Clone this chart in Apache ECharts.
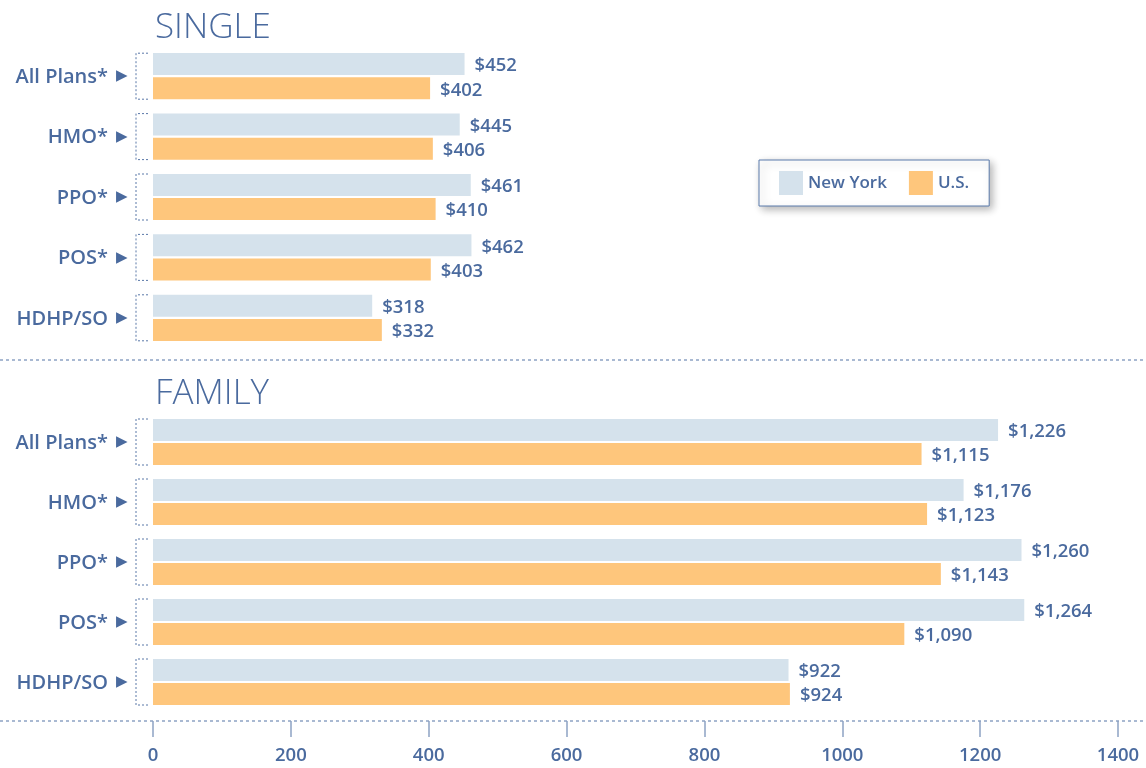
<!DOCTYPE html>
<html>
<head>
<meta charset="utf-8">
<script src="https://cdn.jsdelivr.net/npm/echarts@6/dist/echarts.min.js"></script>
<style>
  html, body { margin: 0; padding: 0; background: #fff; }
  #main { width: 1146px; height: 768px; }
</style>
</head>
<body>
<div id="main"></div>
<script>
// data
var plans = ['All Plans*', 'HMO*', 'PPO*', 'POS*', 'HDHP/SO'];
var singleNY = [452, 445, 461, 462, 318];
var singleUS = [402, 406, 410, 403, 332];
var familyNY = [1226, 1176, 1260, 1264, 922];
var familyUS = [1115, 1123, 1143, 1090, 924];
var xTicks = [0, 200, 400, 600, 800, 1000, 1200, 1400];

var txt = '#4a6a9e';
var blue = '#d5e2ec';
var orange = '#fec67c';
var font = 'Open Sans';

function money(v) {
  return '$' + String(v).replace(/\B(?=(\d{3})+(?!\d))/g, ',');
}

var myChart = echarts.init(document.getElementById('main'));

function barSeries(name, color, data, idx) {
  return {
    name: name,
    type: 'bar',
    xAxisIndex: idx,
    yAxisIndex: idx,
    data: data,
    barWidth: 22,
    barGap: '10%',
    itemStyle: { color: color },
    label: {
      show: true,
      position: 'right',
      distance: 10,
      offset: [0, 2],
      color: txt,
      fontFamily: font,
      fontSize: 18.5,
      fontWeight: 600,
      formatter: function (p) { return money(p.value); }
    }
  };
}

// dashed bracket left of each bar pair
function bracketSeries(idx) {
  return {
    type: 'custom',
    xAxisIndex: idx,
    yAxisIndex: idx,
    silent: true,
    clip: false,
    encode: { x: 0, y: 1 },
    data: plans.map(function (p, i) { return [0, i]; }),
    renderItem: function (params, api) {
      var c = api.coord([0, api.value(1)]);
      var x0 = c[0] - 17, x1 = c[0] - 5;
      var y0 = c[1] - 23, y1 = c[1] + 23;
      return {
        type: 'polyline',
        shape: { points: [[x1, y0], [x0, y0], [x0, y1], [x1, y1]] },
        style: { stroke: '#5a78a8', lineWidth: 1, lineDash: [2, 2], fill: null }
      };
    }
  };
}

var catAxis = function (idx) {
  return {
    type: 'category',
    gridIndex: idx,
    data: plans,
    inverse: true,
    axisLine: { show: false },
    axisTick: { show: false },
    axisLabel: {
      margin: 25,
      formatter: function (v) { return '{a|' + v + '}{t|▶}'; },
      rich: {
        a: { color: txt, fontFamily: font, fontSize: 20, fontWeight: 600, padding: [2, 0, 0, 0] },
        t: { color: txt, fontSize: 15, padding: [0, 0, 0, 8] }
      }
    }
  };
};

var option = {
  animation: false,
  title: [
    { text: 'SINGLE', left: 150, top: 6,
      textStyle: { color: txt, fontFamily: font, fontSize: 35, fontWeight: 300 } },
    { text: 'FAMILY', left: 150, top: 372,
      textStyle: { color: txt, fontFamily: font, fontSize: 35, fontWeight: 300 } }
  ],
  legend: {
    data: ['New York', 'U.S.'],
    left: 759,
    top: 160,
    padding: [11, 20, 11, 20],
    itemWidth: 24,
    itemHeight: 24,
    itemGap: 22,
    borderColor: '#5b7aab',
    borderWidth: 1,
    backgroundColor: '#fff',
    shadowBlur: 8,
    shadowColor: 'rgba(0,0,0,0.3)',
    shadowOffsetX: 3,
    shadowOffsetY: 3,
    icon: 'rect',
    textStyle: { color: txt, fontFamily: font, fontSize: 17, fontWeight: 600 }
  },
  grid: [
    { left: 153, right: 28, top: 46, height: 302 },
    { left: 153, right: 28, top: 412, height: 300 }
  ],
  xAxis: [
    { type: 'value', gridIndex: 0, min: 0, max: 1400, interval: 200, show: false },
    {
      type: 'value', gridIndex: 1, min: 0, max: 1400, interval: 200,
      offset: 9,
      axisLine: { show: false },
      axisTick: { show: true, length: 16, lineStyle: { color: '#8da3c4', width: 1.5 } },
      splitLine: { show: false },
      axisLabel: {
        margin: 25, color: txt, fontFamily: font, fontSize: 18.5, fontWeight: 600,
        customValues: xTicks,
        formatter: function (v) { return String(v); }
      }
    }
  ],
  yAxis: [catAxis(0), catAxis(1)],
  graphic: [
    { type: 'line', shape: { x1: 0, y1: 360, x2: 1146, y2: 360 },
      style: { stroke: '#8da3c4', lineWidth: 1.5, lineDash: [3, 3] } },
    { type: 'line', shape: { x1: 0, y1: 721, x2: 1146, y2: 721 },
      style: { stroke: '#8da3c4', lineWidth: 1.5, lineDash: [3, 3] } }
  ],
  series: [
    barSeries('New York', blue, singleNY, 0),
    barSeries('U.S.', orange, singleUS, 0),
    barSeries('New York', blue, familyNY, 1),
    barSeries('U.S.', orange, familyUS, 1),
    bracketSeries(0),
    bracketSeries(1)
  ]
};
myChart.setOption(option);
</script>
</body>
</html>
